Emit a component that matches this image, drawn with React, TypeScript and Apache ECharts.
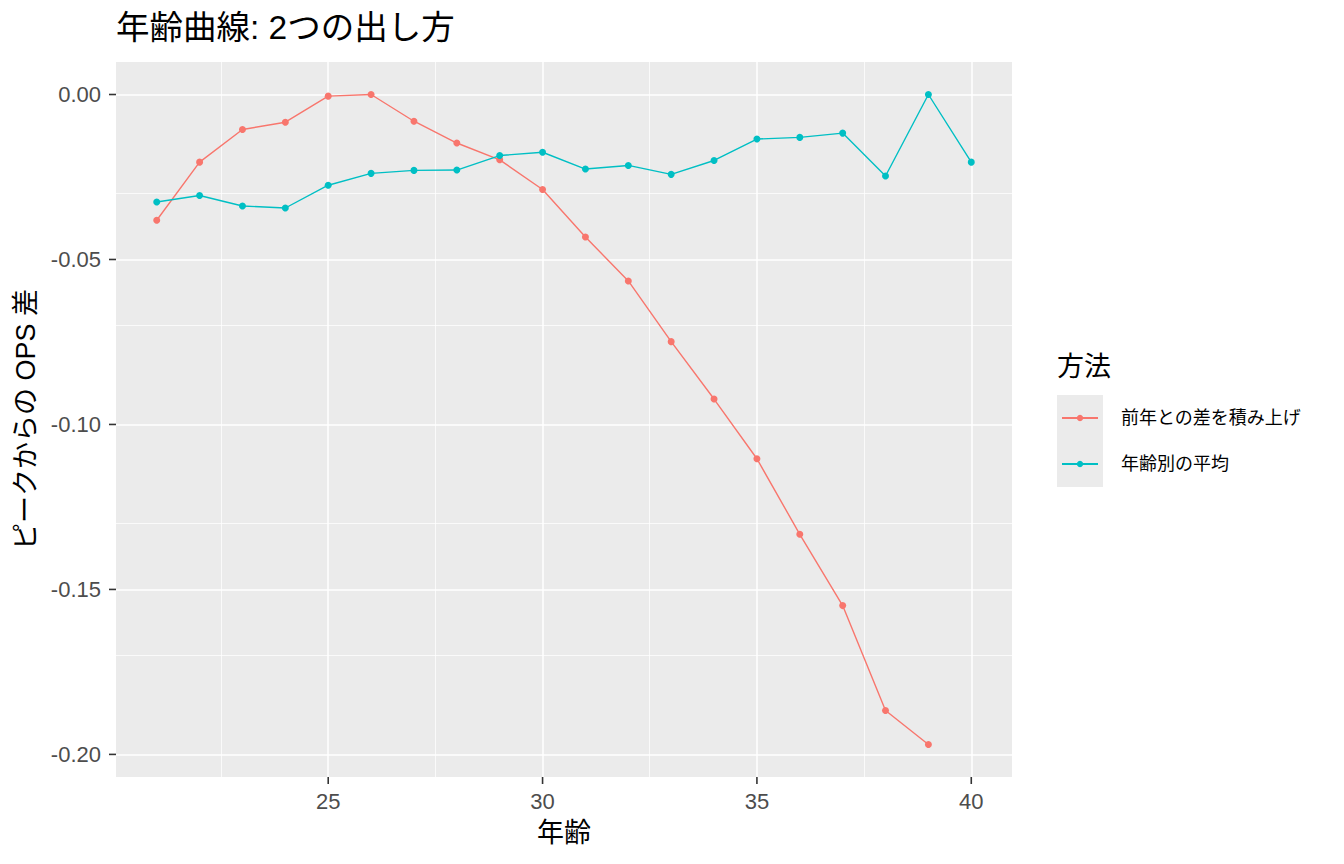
import React, { useEffect, useRef } from "react";
import * as echarts from "echarts";

const ages = [21, 22, 23, 24, 25, 26, 27, 28, 29, 30, 31, 32, 33, 34, 35, 36, 37, 38, 39, 40];
const cumulative = [-0.0381, -0.0205, -0.0106, -0.0084, -0.0005, 0.0, -0.0081, -0.0147, -0.0198, -0.0288, -0.0432, -0.0565, -0.0749, -0.0923, -0.1104, -0.1333, -0.1549, -0.1867, -0.197, null];
const ageMean = [-0.0326, -0.0306, -0.0338, -0.0344, -0.0275, -0.0239, -0.023, -0.0229, -0.0185, -0.0175, -0.0226, -0.0215, -0.0242, -0.02, -0.0135, -0.013, -0.0117, -0.0247, 0.0, -0.0205];
const seriesNames = ["前年との差を積み上げ", "年齢別の平均"];
const xMajor = [25, 30, 35, 40];
const xMinor = [22.5, 27.5, 32.5, 37.5];
const yMajor = [0, -0.05, -0.1, -0.15, -0.2];
const yMinor = [-0.025, -0.075, -0.125, -0.175];
const xMin = 20.05;
const xMax = 40.95;
const yMin = -0.20685;
const yMax = 0.00985;

const FONT = "'Liberation Sans', 'Noto Sans CJK JP', sans-serif";

export default function App() {
  const ref = useRef<HTMLDivElement>(null);
  useEffect(() => {
    if (!ref.current) return;
    const chart = echarts.init(ref.current, undefined, { renderer: "svg" });
    const toPairs = (ys: (number | null)[]) =>
      ages.map((a, i) => [a, ys[i]]).filter((p) => p[1] !== null);
    const gridLines = [
      ...xMajor.map((v) => ({ xAxis: v, lineStyle: { width: 1.5 } })),
      ...xMinor.map((v) => ({ xAxis: v, lineStyle: { width: 0.75 } })),
      ...yMajor.map((v) => ({ yAxis: v, lineStyle: { width: 1.5 } })),
      ...yMinor.map((v) => ({ yAxis: v, lineStyle: { width: 0.75 } })),
    ];
    const tickRich = { t: { fontSize: 22, color: "#4D4D4D", fontFamily: FONT, lineHeight: 24 } };
    const legendKey = {
      type: "rect",
      id: "legendKey",
      shape: { x: 1057, y: 395, width: 46, height: 92 },
      style: { fill: "#EBEBEB" },
      z: 0,
    };
    chart.setOption({
      animation: false,
      title: [
        {
          text: "年齢曲線: 2つの出し方",
          left: 116,
          top: 11,
          padding: 0,
          textStyle: { fontSize: 33.5, fontWeight: "normal", color: "#000", fontFamily: FONT },
        },
        {
          text: "方法",
          left: 1057,
          top: 353,
          padding: 0,
          textStyle: { fontSize: 27, fontWeight: "normal", color: "#000", fontFamily: FONT },
        },
      ],
      graphic: [legendKey],
      legend: {
        data: seriesNames,
        orient: "vertical",
        left: 1061,
        top: 409,
        itemWidth: 36,
        itemHeight: 8,
        itemGap: 28,
        padding: 0,
        textStyle: { fontSize: 18, lineHeight: 18, color: "#000", fontFamily: FONT, padding: [0, 0, 0, 18] },
      },
      grid: {
        left: 116,
        top: 62,
        width: 896,
        height: 715,
        show: true,
        backgroundColor: "#EBEBEB",
        borderWidth: 0,
        containLabel: false,
      },
      xAxis: {
        type: "value",
        min: xMin,
        max: xMax,
        name: "年齢",
        nameLocation: "middle",
        nameGap: 42,
        nameTextStyle: { fontSize: 27, color: "#000", fontFamily: FONT },
        axisLine: { show: false, onZero: false },
        axisTick: { show: false },
        axisLabel: {
          customValues: xMajor,
          margin: 12,
          fontSize: 22,
          color: "#4D4D4D",
          fontFamily: FONT,
          formatter: (v: number) => `{t|${v}}`,
          rich: tickRich,
        },
        splitLine: { show: false },
      },
      yAxis: {
        type: "value",
        min: yMin,
        max: yMax,
        name: "ピークからの OPS 差",
        nameLocation: "middle",
        nameGap: 75,
        nameTextStyle: { fontSize: 27, color: "#000", fontFamily: FONT },
        axisLine: { show: false, onZero: false },
        axisTick: { show: false },
        axisLabel: {
          customValues: yMajor,
          margin: 15,
          fontSize: 22,
          color: "#4D4D4D",
          fontFamily: FONT,
          formatter: (v: number) => `{t|${v.toFixed(2)}}`,
          rich: tickRich,
        },
        splitLine: { show: false },
      },
      series: [
        {
          type: "line",
          name: "grid",
          data: [],
          z: 1,
          silent: true,
          markLine: {
            silent: true,
            z: 1,
            symbol: ["none", "none"],
            label: { show: false },
            lineStyle: { color: "#FFFFFF", type: "solid" },
            emphasis: { disabled: true },
            data: gridLines,
          },
        },
        {
          type: "line",
          name: seriesNames[0],
          data: toPairs(cumulative),
          z: 3,
          color: "#F8766D",
          symbol: "circle",
          symbolSize: 7,
          lineStyle: { width: 1.4, color: "#F8766D" },
          itemStyle: { color: "#F8766D" },
        },
        {
          type: "line",
          name: seriesNames[1],
          data: toPairs(ageMean),
          z: 3,
          color: "#00BFC4",
          symbol: "circle",
          symbolSize: 7,
          lineStyle: { width: 1.4, color: "#00BFC4" },
          itemStyle: { color: "#00BFC4" },
        },
      ],
    });
    // axis ticks as thin rects, positioned through the chart's own scales
    const ticks: any[] = [];
    const xBase = chart.convertToPixel({ yAxisIndex: 0 }, yMin) as any;
    const yBase = chart.convertToPixel({ xAxisIndex: 0 }, xMin) as any;
    if (typeof xBase === "number" && typeof yBase === "number") {
      xMajor.forEach((v, i) => {
        const px = chart.convertToPixel({ xAxisIndex: 0 }, v) as any;
        if (typeof px === "number") {
          ticks.push({ type: "rect", id: "xt" + i, shape: { x: px - 0.8, y: xBase, width: 1.6, height: 7 }, style: { fill: "#333333" }, z: 10 });
        }
      });
      yMajor.forEach((v, i) => {
        const py = chart.convertToPixel({ yAxisIndex: 0 }, v) as any;
        if (typeof py === "number") {
          ticks.push({ type: "rect", id: "yt" + i, shape: { x: yBase - 7, y: py - 0.8, width: 7, height: 1.6 }, style: { fill: "#333333" }, z: 10 });
        }
      });
    }
    chart.setOption({ graphic: [legendKey, ...ticks] });
    return () => chart.dispose();
  }, []);
  return (
    <div
      ref={ref}
      style={{ position: "absolute", left: 0, top: 0, width: 1344, height: 864, background: "#fff" }}
    />
  );
}
